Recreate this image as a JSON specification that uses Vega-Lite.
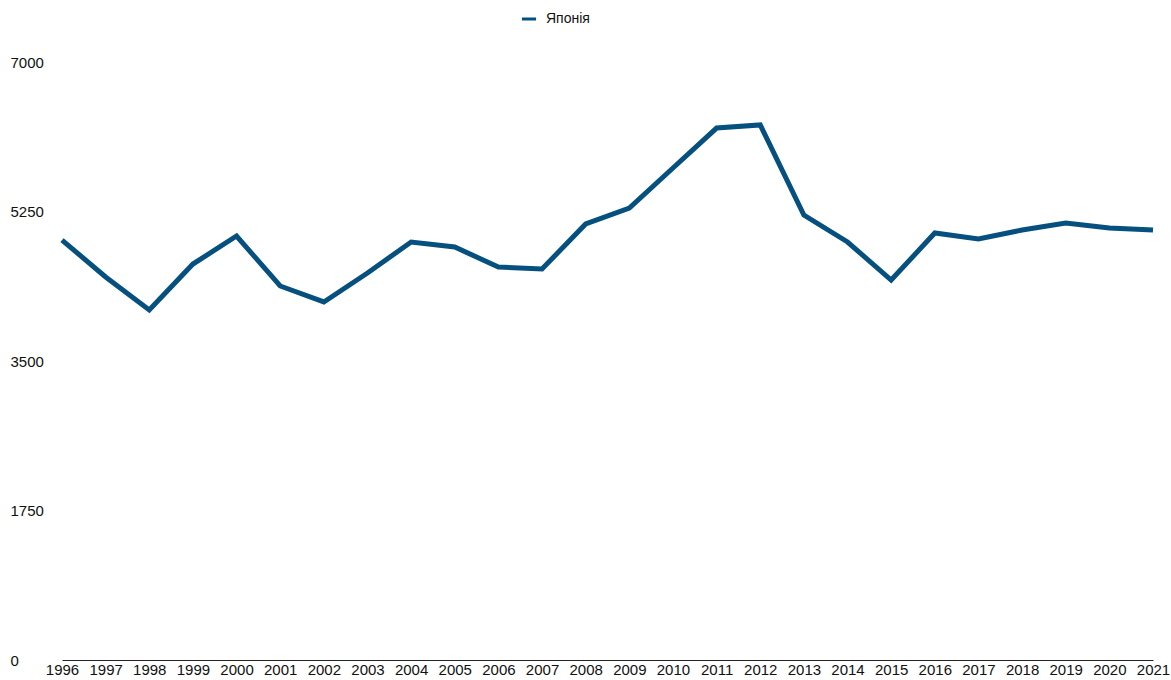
{
  "$schema": "https://vega.github.io/schema/vega-lite/v6.json",
  "width": 1091,
  "height": 598,
  "autosize": "none",
  "padding": {"left": 62, "top": 62, "right": 18, "bottom": 20},
  "background": "white",
  "config": {
    "view": {"stroke": null},
    "font": "Liberation Sans"
  },
  "data": {
    "values": [
      {"year": "1996", "country": "Японія", "value": 4916},
      {"year": "1997", "country": "Японія", "value": 4483},
      {"year": "1998", "country": "Японія", "value": 4097},
      {"year": "1999", "country": "Японія", "value": 4635},
      {"year": "2000", "country": "Японія", "value": 4963},
      {"year": "2001", "country": "Японія", "value": 4378},
      {"year": "2002", "country": "Японія", "value": 4191},
      {"year": "2003", "country": "Японія", "value": 4530},
      {"year": "2004", "country": "Японія", "value": 4893},
      {"year": "2005", "country": "Японія", "value": 4834},
      {"year": "2006", "country": "Японія", "value": 4600},
      {"year": "2007", "country": "Японія", "value": 4577},
      {"year": "2008", "country": "Японія", "value": 5104},
      {"year": "2009", "country": "Японія", "value": 5291},
      {"year": "2010", "country": "Японія", "value": 5759},
      {"year": "2011", "country": "Японія", "value": 6227},
      {"year": "2012", "country": "Японія", "value": 6263},
      {"year": "2013", "country": "Японія", "value": 5209},
      {"year": "2014", "country": "Японія", "value": 4893},
      {"year": "2015", "country": "Японія", "value": 4448},
      {"year": "2016", "country": "Японія", "value": 4998},
      {"year": "2017", "country": "Японія", "value": 4928},
      {"year": "2018", "country": "Японія", "value": 5033},
      {"year": "2019", "country": "Японія", "value": 5115},
      {"year": "2020", "country": "Японія", "value": 5057},
      {"year": "2021", "country": "Японія", "value": 5033}
    ]
  },
  "mark": {"type": "line", "strokeWidth": 5, "strokeJoin": "miter", "strokeCap": "butt"},
  "encoding": {
    "x": {
      "field": "year",
      "type": "ordinal",
      "scale": {"type": "point", "padding": 0},
      "axis": {
        "title": null,
        "labelAngle": 0,
        "ticks": false,
        "tickSize": 0,
        "labelPadding": 2,
        "labelFontSize": 15,
        "labelColor": "#111",
        "domainColor": "#222",
        "domainWidth": 1.2,
        "grid": false
      }
    },
    "y": {
      "field": "value",
      "type": "quantitative",
      "scale": {"domain": [0, 7000], "nice": false},
      "axis": {
        "title": null,
        "values": [0, 1750, 3500, 5250, 7000],
        "format": "d",
        "ticks": false,
        "tickSize": 0,
        "domain": false,
        "grid": false,
        "labelAlign": "left",
        "labelPadding": 52,
        "labelFontSize": 15,
        "labelColor": "#111",
        "labelBaseline": "middle"
      }
    },
    "color": {
      "field": "country",
      "type": "nominal",
      "scale": {"range": ["#05507f"]},
      "legend": {
        "title": null,
        "orient": "none",
        "legendX": 458,
        "legendY": -52,
        "symbolType": "stroke",
        "symbolStrokeWidth": 3,
        "symbolSize": 200,
        "labelFontSize": 14,
        "labelColor": "#111",
        "labelOffset": 8
      }
    }
  }
}
